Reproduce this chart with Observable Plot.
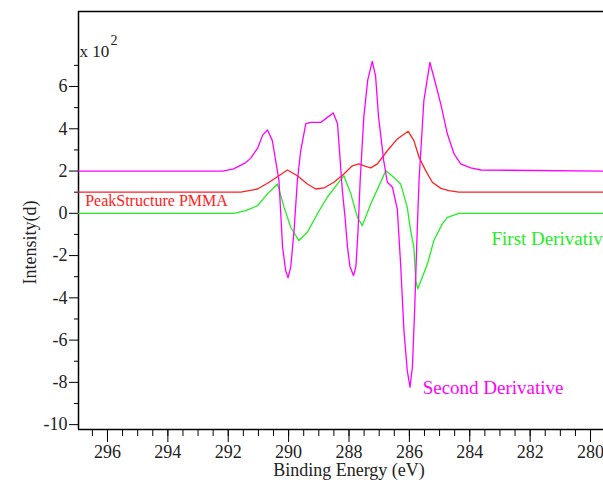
<!DOCTYPE html>
<html>
<head>
<meta charset="utf-8">
<script src="https://cdn.jsdelivr.net/npm/d3@7"></script>
<script src="https://cdn.jsdelivr.net/npm/@observablehq/plot@0.6"></script>
<style>
  html, body { margin: 0; padding: 0; background: #fff; overflow: hidden; }
  #chart { width: 603px; height: 480px; }
</style>
</head>
<body>
<div id="chart"></div>
<script>
// Binding energy (eV) and intensity (x 10^2)
const secondX = [296.96, 292.18, 291.82, 291.42, 291.26, 291.02, 290.86, 290.70, 290.54, 290.43, 290.32, 290.20, 290.10, 290.02, 289.93, 289.82, 289.71, 289.60, 289.43, 289.27, 288.94, 288.77, 288.52, 288.38, 288.22, 288.13, 288.05, 287.97, 287.85, 287.77, 287.70, 287.63, 287.51, 287.38, 287.23, 287.12, 287.02, 286.85, 286.73, 286.56, 286.40, 286.29, 286.18, 286.07, 285.98, 285.90, 285.83, 285.74, 285.68, 285.52, 285.32, 285.13, 284.96, 284.74, 284.52, 284.30, 283.97, 283.63, 279.57];
const secondY = [2.0, 2.0, 2.1, 2.4, 2.6, 3.1, 3.7, 3.94, 3.44, 2.5, 1.55, -1.6, -2.7, -3.05, -2.55, -0.82, 1.55, 2.96, 4.24, 4.3, 4.3, 4.48, 4.75, 4.24, 1.07, -0.2, -1.6, -2.5, -2.95, -2.5, -0.8, 1.55, 4.54, 6.3, 7.19, 6.5, 4.54, 2.49, 1.47, 1.23, 0.2, -2.4, -5.55, -7.44, -8.23, -7.28, -4.75, -0.82, 1.55, 5.33, 7.14, 6.12, 5.17, 3.75, 2.81, 2.34, 2.15, 2.05, 2.0];

const peakX = [296.96, 291.59, 291.03, 290.70, 290.37, 290.04, 289.71, 289.38, 289.10, 288.83, 288.50, 288.17, 287.89, 287.67, 287.45, 287.28, 287.06, 286.73, 286.40, 286.04, 285.85, 285.68, 285.46, 285.24, 284.96, 284.69, 284.36, 279.57];
const peakY = [1.0, 1.0, 1.15, 1.42, 1.73, 2.05, 1.78, 1.39, 1.15, 1.2, 1.47, 1.86, 2.25, 2.34, 2.22, 2.15, 2.34, 2.96, 3.52, 3.88, 3.44, 2.65, 2.02, 1.47, 1.18, 1.07, 1.0, 1.0];

const firstX = [296.96, 291.81, 291.42, 291.03, 290.70, 290.37, 290.15, 289.93, 289.66, 289.38, 289.05, 288.72, 288.17, 287.94, 287.72, 287.56, 287.28, 286.78, 286.51, 286.29, 286.07, 285.96, 285.85, 285.79, 285.72, 285.40, 285.19, 284.91, 284.74, 284.36, 279.57];
const firstY = [0, 0, 0.13, 0.36, 0.92, 1.39, 0.28, -0.66, -1.29, -0.9, -0.03, 0.76, 1.78, 0.92, -0.19, -0.58, 0.44, 2.02, 1.7, 1.39, 0.28, -0.82, -1.6, -3.18, -3.57, -2.39, -1.29, -0.5, -0.19, 0, 0];

const xMajorTicks = [296, 294, 292, 290, 288, 286, 284, 282, 280];
const xMinorTicks = d3.range(280, 297, 0.5);
const yMajorTicks = [-10, -8, -6, -4, -2, 0, 2, 4, 6];
const yMinorTicks = [-9, -7, -5, -3, -1, 1, 3, 5, 7];

const curveLabels = ["PeakStructure PMMA", "First Derivative", "Second Derivative"];
const curveLabelX = [296.74, 283.28, 285.56];
const curveLabelY = [0.6, -1.2, -8.25];
const curveLabelSize = [16, 19, 19];
const colors = ["#ff2020", "#22ee22", "#ff00ff"];

const xTitle = "Binding Energy (eV)";
const yTitle = "Intensity(d)";

const X0 = 296.96, X1 = 279.57, Y0 = -10.23, Y1 = 9.55;

const toPts = (xs, ys) => xs.map((x, i) => ({x, y: ys[i]}));
const labels = curveLabels.map((t, i) => ({t, x: curveLabelX[i], y: curveLabelY[i], c: colors[i], s: curveLabelSize[i]}));

const plot = Plot.plot({
  width: 603,
  height: 480,
  marginLeft: 78,
  marginRight: 0,
  marginTop: 11,
  marginBottom: 51,
  style: {fontFamily: "Liberation Serif", fontSize: "18px", color: "#222", background: "#fff"},
  x: {domain: [X0, X1]},
  y: {domain: [Y0, Y1]},
  marks: [
    Plot.axisX({ticks: xMinorTicks, tickSize: 7, tickFormat: () => "", label: null, stroke: "#000"}),
    Plot.axisX({ticks: xMajorTicks, tickSize: 13, tickPadding: 3, tickFormat: d => String(d), label: null, stroke: "#000", fill: "#222"}),
    Plot.axisY({ticks: yMinorTicks, tickSize: 4, tickFormat: () => "", label: null, stroke: "#000"}),
    Plot.axisY({ticks: yMajorTicks, tickSize: 9, tickPadding: 2, tickFormat: d => String(d), label: null, stroke: "#000", fill: "#222"}),
    Plot.ruleX([X0], {stroke: "#000", strokeWidth: 1.5}),
    Plot.ruleY([Y1, Y0], {stroke: "#000", strokeWidth: 1.5}),
    Plot.line(toPts(peakX, peakY), {x: "x", y: "y", stroke: colors[0], strokeWidth: 1.3}),
    Plot.line(toPts(firstX, firstY), {x: "x", y: "y", stroke: colors[1], strokeWidth: 1.3}),
    Plot.line(toPts(secondX, secondY), {x: "x", y: "y", stroke: colors[2], strokeWidth: 1.3}),
    Plot.text(labels, {x: "x", y: "y", text: "t", fill: "c", fontSize: "s", textAnchor: "start"}),
    Plot.text([xTitle], {frameAnchor: "bottom", lineAnchor: "bottom", textAnchor: "middle", dx: 8, dy: 46, fontSize: 18, fill: "#222"}),
    Plot.text([yTitle], {frameAnchor: "left", rotate: -90, textAnchor: "middle", lineAnchor: "middle", dx: -48, dy: 22, fontSize: 18, fill: "#222"}),
    Plot.text(["x 10"], {frameAnchor: "top-left", dx: 1, dy: 33, textAnchor: "start", fontSize: 17, fill: "#222"}),
    Plot.text(["2"], {frameAnchor: "top-left", dx: 32, dy: 24, textAnchor: "start", fontSize: 14, fill: "#222"})
  ]
});
document.getElementById("chart").appendChild(plot);
</script>
</body>
</html>
